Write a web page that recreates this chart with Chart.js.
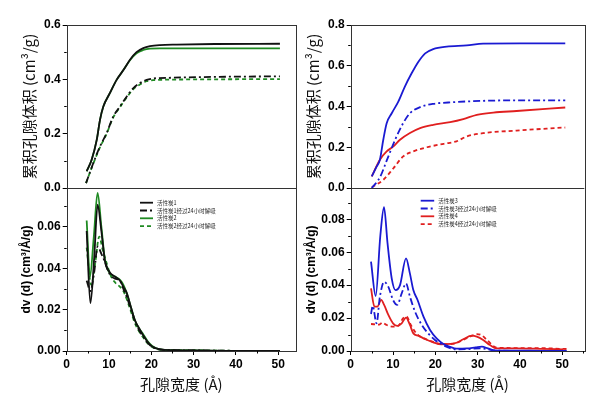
<!DOCTYPE html>
<html><head><meta charset="utf-8">
<script src="https://cdn.jsdelivr.net/npm/chart.js@4/dist/chart.umd.min.js"></script>
<style>
html,body{margin:0;padding:0;background:#fff}
body{width:600px;height:395px;overflow:hidden;position:relative}
.c{position:absolute;top:0;width:300px;height:395px}
</style></head><body>
<div class="c" style="left:0"><canvas id="cl"></canvas></div>
<div class="c" style="left:300px"><canvas id="cr"></canvas></div>
<script>
// ---------- labels ----------
const labelsLeft = ['活性炭1','活性炭1经过24小时解吸','活性炭2','活性炭2经过24小时解吸'];
const labelsRight = ['活性炭3','活性炭3经过24小时解吸','活性炭4','活性炭4经过24小时解吸'];
const xTitle = '孔隙宽度 (Å)';
const yTitleTop = '累积孔隙体积 (cm³/g)';
const yTitleBottom = 'dv (d) (cm³/Å/g)';

// ---------- left top: cumulative pore volume ----------
const c1x = [4.72,5.9,7.1,7.87,8.66,10.2,11.8,13.4,15.0,16.5,18.1,19.7,22,26,35,50.4];
const c1y = [0.062,0.104,0.177,0.251,0.30,0.349,0.398,0.434,0.473,0.50,0.515,0.522,0.526,0.528,0.530,0.531];
const c1dx = [4.57,6.29,7.87,9.44,11.0,12.6,14.2,15.7,17.3,18.9,20.5,25,35,50.4];
const c1dy = [0.018,0.092,0.153,0.202,0.263,0.300,0.337,0.367,0.386,0.398,0.403,0.406,0.409,0.411];
const c2x = [4.72,5.9,7.1,7.87,8.66,10.2,11.8,13.4,15.0,16.5,18.1,19.7,22,26,35,50.4];
const c2y = [0.061,0.104,0.177,0.251,0.30,0.349,0.398,0.434,0.471,0.496,0.508,0.513,0.514,0.514,0.514,0.514];
const c2dx = [4.57,6.29,7.87,9.44,11.0,12.6,14.2,15.7,17.3,18.9,20.5,25,35,50.4];
const c2dy = [0.018,0.090,0.150,0.200,0.260,0.298,0.334,0.363,0.381,0.393,0.397,0.399,0.400,0.401];

// ---------- left bottom: dV(d) ----------
const d1x = [4.72,5.6,6.5,7.3,8.2,9.05,10.2,11.4,12.6,13.4,14.2,15.2,16.1,17.1,18.1,19.1,20.2,22,25,30,40,50.4];
const d1y = [0.058,0.0231,0.045,0.0707,0.058,0.0434,0.038,0.036,0.034,0.031,0.028,0.021,0.015,0.011,0.0075,0.0045,0.0022,0.0008,0.0004,0.0003,0.0001,0.0001];
const d1dx = [4.72,5.6,6.5,7.3,8.2,9.05,10.2,11.4,12.6,13.4,14.2,15.2,16.1,17.1,18.1,19.1,20.2,22,25,30,40,50.4];
const d1dy = [0.034,0.029,0.038,0.0505,0.047,0.043,0.037,0.035,0.034,0.030,0.026,0.020,0.0145,0.010,0.007,0.004,0.002,0.0008,0.0004,0.0003,0.0001,0.0001];
const d2x = [4.72,5.5,6.4,7.3,8.2,9.05,10.2,11.4,12.6,13.4,14.2,15.2,16.1,17.1,18.1,19.1,20.2,22,25,30,40,50.4];
const d2y = [0.0631,0.036,0.055,0.0764,0.060,0.044,0.0376,0.036,0.0344,0.032,0.028,0.021,0.015,0.011,0.0080,0.0048,0.0024,0.0008,0.0004,0.0003,0.0001,0.0001];
const d2dx = [4.72,5.8,6.7,7.7,8.5,9.5,10.5,11.5,12.6,13.4,14.2,15.2,16.1,17.1,18.1,19.1,20.2,22,25,30,40,50.4];
const d2dy = [0.050,0.032,0.042,0.0553,0.049,0.042,0.036,0.033,0.031,0.029,0.025,0.019,0.0135,0.0095,0.0065,0.0038,0.0019,0.0007,0.0004,0.0003,0.0001,0.0001];

// ---------- right top: cumulative pore volume ----------
const c3x = [4.97,6.15,6.9,7.7,8.5,9.7,11.25,12.8,14.4,16.0,17.6,19.5,22.7,27.4,31.3,40,50.7];
const c3y = [0.057,0.106,0.139,0.237,0.318,0.367,0.424,0.498,0.563,0.62,0.661,0.682,0.694,0.700,0.709,0.710,0.710];
const c3dx = [4.97,6.9,8.5,10.5,12.4,14.0,16.4,19.5,24.2,31.3,40,50.7];
const c3dy = [0.0,0.052,0.134,0.237,0.318,0.367,0.397,0.413,0.421,0.428,0.430,0.430];
const c4x = [4.97,6.9,8.5,10.1,11.65,14.0,16.4,19.5,23.5,26.6,29.8,33.7,39.2,50.7];
const c4y = [0.057,0.139,0.18,0.204,0.237,0.27,0.294,0.31,0.323,0.338,0.359,0.37,0.378,0.395];
const c4dx = [4.97,7.7,10.1,12.4,14.8,18.0,22.0,25.0,27.4,31.3,39.2,50.7];
const c4dy = [0.003,0.04,0.097,0.155,0.18,0.20,0.217,0.229,0.253,0.269,0.282,0.297];

// ---------- right bottom: dV(d) ----------
const d3x = [4.8,5.9,7.0,7.87,8.7,9.7,10.6,11.65,13.07,14.0,14.8,15.8,17.2,18.75,20.3,21.9,23.5,25.0,27.5,29.5,31.0,32.4,33.8,36,40,45,51];
const d3y = [0.0543,0.0334,0.070,0.0873,0.0655,0.044,0.037,0.040,0.0563,0.047,0.037,0.031,0.0209,0.0128,0.0077,0.0043,0.0025,0.0014,0.0016,0.0022,0.0026,0.0016,0.0004,0.0002,0.0002,0.0001,0.0001];
const d3dx = [4.8,5.2,6.1,6.9,7.9,8.9,10.0,11.0,12.05,13.07,14.0,15.2,16.8,18.3,19.9,21.4,23.0,25.0,28,30.5,32.5,34,40,51];
const d3dy = [0.0225,0.0274,0.0168,0.033,0.042,0.039,0.031,0.028,0.035,0.041,0.033,0.0239,0.0158,0.0107,0.0067,0.0043,0.0022,0.0010,0.0012,0.0016,0.0010,0.0003,0.0001,0.0001];
const d4x = [4.8,5.6,6.3,7.2,7.9,8.9,10.0,11.0,12.05,13.07,14.0,14.8,16.0,17.5,19.5,21.4,23.5,25.0,26.6,28.6,29.8,31.3,32.9,34.5,39.2,45,50.2];
const d4y = [0.038,0.027,0.027,0.031,0.028,0.0219,0.0168,0.0152,0.0168,0.0203,0.0158,0.0107,0.0093,0.0073,0.0053,0.0041,0.0043,0.005,0.0071,0.0093,0.0087,0.0067,0.0036,0.0016,0.0016,0.0013,0.001];
const d4dx = [4.8,6.7,7.5,8.5,10.0,11.2,12.4,13.2,14.2,15.2,16.0,17.5,19.5,21.4,23.5,25.0,26.6,28.6,29.8,31.0,32.2,34.5,39.2,43.2,51];
const d4dy = [0.0164,0.016,0.0172,0.0158,0.0148,0.0152,0.0199,0.0209,0.0158,0.0117,0.0095,0.0075,0.0055,0.0042,0.0042,0.0048,0.0068,0.0092,0.0103,0.0095,0.0067,0.002,0.0018,0.0018,0.0012];

// ---------- colors ----------
const BLACK = '#111111', GREEN = '#1f8a22', BLUE = '#1a1ad2', RED = '#e01f1f';
const DASHDOT = [7,3,2,3], DASH = [4,3];

const pts = (xs, ys) => xs.map((x, i) => ({x, y: ys[i]}));
function ds(label, xs, ys, color, dash, axis) {
  return {label, data: pts(xs, ys), borderColor: color, backgroundColor: color,
    borderDash: dash || [], borderWidth: 1.8, pointRadius: 0, yAxisID: axis,
    cubicInterpolationMode: 'monotone', fill: false};
}

const TICKFONT = {family: '"Liberation Sans", Arial, sans-serif', size: 12, weight: 'bold'};

const framePlugin = {
  id: 'frame',
  afterDraw(chart, args, opts) {
    const {ctx, chartArea: a, scales} = chart;
    ctx.save();
    ctx.strokeStyle = '#333';
    ctx.lineWidth = 1;
    ctx.strokeRect(Math.round(a.left) + 0.5, Math.round(a.top) + 0.5, Math.round(a.right - a.left), Math.round(a.bottom - a.top));
    const ym = Math.round(scales.yTop.getPixelForValue(0)) + 0.5;
    ctx.beginPath(); ctx.moveTo(a.left, ym); ctx.lineTo(a.right, ym); ctx.stroke();
    // minor ticks
    ctx.strokeStyle = '#000';
    ctx.beginPath();
    for (let v = 5; v < scales.x.max; v += 10) {
      const px = Math.round(scales.x.getPixelForValue(v)) + 0.5;
      ctx.moveTo(px, a.bottom); ctx.lineTo(px, a.bottom + 2.5);
    }
    ['yTop', 'yBot'].forEach(id => {
      const s = scales[id];
      const st = s.options.ticks.stepSize / 2;
      for (let v = st; v < s.max; v += 2 * st) {
        const py = Math.round(s.getPixelForValue(v)) + 0.5;
        ctx.moveTo(a.left - 2.5, py); ctx.lineTo(a.left, py);
      }
    });
    ctx.stroke();
    // legend
    const L = opts.legend;
    ctx.font = '5.5px "Noto Sans CJK SC", sans-serif';
    ctx.textBaseline = 'middle';
    chart.data.datasets.filter(d => d.yAxisID === 'yBot').forEach((d, i) => {
      const y = L.y + i * L.dy;
      ctx.strokeStyle = d.borderColor; ctx.lineWidth = 1.8;
      ctx.setLineDash(d.borderDash);
      ctx.beginPath(); ctx.moveTo(L.x, y); ctx.lineTo(L.x + L.w, y); ctx.stroke();
      ctx.setLineDash([]);
      ctx.fillStyle = '#222';
      ctx.fillText(d.label, L.x + L.w + 4, y);
    });
    ctx.restore();
  }
};

function makeChart(id, datasets, cfg) {
  return new Chart(document.getElementById(id), {
    type: 'line',
    data: {datasets},
    plugins: [framePlugin],
    options: {
      responsive: true, maintainAspectRatio: false, animation: false,
      layout: {padding: {top: 25, left: 0, right: cfg.padRight, bottom: 0}},
      plugins: {legend: {display: false}, tooltip: {enabled: false}, frame: {legend: cfg.legend}},
      scales: {
        x: {type: 'linear', min: 0, max: cfg.xmax,
          grid: {display: true, drawOnChartArea: false, drawTicks: true, tickLength: 4, color: '#000'},
          border: {display: false},
          ticks: {stepSize: 10, includeBounds: false, font: TICKFONT, color: '#000', padding: 2, maxRotation: 0},
          title: {display: true, text: xTitle, color: '#111', font: {family: '"Noto Sans CJK SC", sans-serif', size: 15}, padding: {top: 0, bottom: 2}},
          afterFit: s => { s.height = 44; }
        },
        yBot: {type: 'linear', position: 'left', stack: 'v', stackWeight: 1, min: 0, max: cfg.botMax,
          grid: {display: true, drawOnChartArea: false, drawTicks: true, tickLength: 4, color: '#000'},
          border: {display: false},
          ticks: {stepSize: 0.02, includeBounds: false, font: TICKFONT, color: '#000', padding: 2, callback: v => v.toFixed(2)},
          title: {display: true, text: yTitleBottom, color: '#000', font: {family: '"Liberation Sans", Arial, sans-serif', size: 12, weight: 'bold'}, padding: {top: cfg.botTitlePad, bottom: 0}},
          afterFit: s => { s.width = cfg.yWidth; }
        },
        yTop: {type: 'linear', position: 'left', stack: 'v', stackWeight: 1, min: 0, max: cfg.topMax,
          grid: {display: true, drawOnChartArea: false, drawTicks: true, tickLength: 4, color: '#000'},
          border: {display: false},
          ticks: {stepSize: 0.2, includeBounds: false, font: TICKFONT, color: '#000', padding: 2, callback: v => v.toFixed(1)},
          title: {display: true, text: yTitleTop, color: '#111', font: {family: '"Noto Sans CJK SC", sans-serif', size: 15}, padding: {top: cfg.topTitlePad, bottom: 0}},
          afterFit: s => { s.width = cfg.yWidth; }
        }
      }
    }
  });
}

makeChart('cl', [
  ds(labelsLeft[0], c1x, c1y, BLACK, null, 'yTop'),
  ds(labelsLeft[1], c1dx, c1dy, BLACK, DASHDOT, 'yTop'),
  ds(labelsLeft[2], c2x, c2y, GREEN, null, 'yTop'),
  ds(labelsLeft[3], c2dx, c2dy, GREEN, DASH, 'yTop'),
  ds(labelsLeft[0], d1x, d1y, BLACK, null, 'yBot'),
  ds(labelsLeft[1], d1dx, d1dy, BLACK, DASHDOT, 'yBot'),
  ds(labelsLeft[2], d2x, d2y, GREEN, null, 'yBot'),
  ds(labelsLeft[3], d2dx, d2dy, GREEN, DASH, 'yBot')
], {xmax: 54.2, padRight: 4, yWidth: 66.7, topMax: 0.6, botMax: 0.0788, topTitlePad: 20, botTitlePad: 19,
    legend: {x: 140, y: 202.7, dy: 7.8, w: 13}});

makeChart('cr', [
  ds(labelsRight[0], c3x, c3y, BLUE, null, 'yTop'),
  ds(labelsRight[1], c3dx, c3dy, BLUE, DASHDOT, 'yTop'),
  ds(labelsRight[2], c4x, c4y, RED, null, 'yTop'),
  ds(labelsRight[3], c4dx, c4dy, RED, DASH, 'yTop'),
  ds(labelsRight[0], d3x, d3y, BLUE, null, 'yBot'),
  ds(labelsRight[1], d3dx, d3dy, BLUE, DASHDOT, 'yBot'),
  ds(labelsRight[2], d4x, d4y, RED, null, 'yBot'),
  ds(labelsRight[3], d4dx, d4dy, RED, DASH, 'yBot')
], {xmax: 55.2, padRight: 15.7, yWidth: 50.7, topMax: 0.8, botMax: 0.099, topTitlePad: 4.5, botTitlePad: 4,
    legend: {x: 120.7, y: 200.7, dy: 7.8, w: 13.5}});
</script>
</body></html>
